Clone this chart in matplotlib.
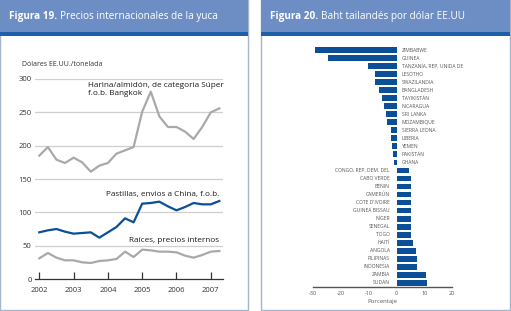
import matplotlib
matplotlib.use("Agg")
import matplotlib.pyplot as plt
from matplotlib.patches import Rectangle

plt.rcParams["font.family"] = ["Open Sans", "DejaVu Sans"]

# --- Figura 19 data (quarterly, 2002 Q1 .. 2007 Q2) ---
quarters = [2002 + i * 0.25 for i in range(22)]
harina = [185, 198, 179, 174, 182, 175, 161, 170, 174, 188, 193, 198,
          251, 281, 244, 228, 228, 221, 210, 228, 250, 256]
pastillas = [70, 73, 75, 71, 68, 69, 70, 62, 70, 78, 91, 85,
             113, 114, 116, 109, 103, 108, 114, 112, 112, 117]
raices = [31, 39, 32, 28, 28, 25, 24, 27, 28, 30, 41, 33,
          44, 43, 41, 41, 40, 35, 32, 36, 41, 42]
years = [2002, 2003, 2004, 2005, 2006, 2007]
yticks_left = [0, 50, 100, 150, 200, 250, 300]

# --- Figura 20 data ---
countries = ["ZIMBABWE", "GUINEA", "TANZANÍA, REP. UNIDA DE", "LESOTHO",
             "SWAZILANDIA", "BANGLADESH", "TAYIKISTÁN", "NICARAGUA",
             "SRI LANKA", "MOZAMBIQUE", "SIERRA LEONA", "LIBERIA", "YEMEN",
             "PAKISTÁN", "GHANA", "CONGO, REP. DEM. DEL", "CABO VERDE",
             "BENIN", "CAMERÚN", "COTE D'IVOIRE", "GUINEA BISSAU", "NÍGER",
             "SENEGAL", "TOGO", "HAITÍ", "ANGOLA", "FILIPINAS", "INDONESIA",
             "ZAMBIA", "SUDÁN"]
change = [-29.5, -24.7, -10.2, -7.7, -7.7, -6.3, -5.3, -4.6, -4.0, -3.4,
          -2.2, -1.9, -1.7, -1.2, -1.1, 4.4, 5.0, 5.0, 5.0, 5.0, 5.0, 5.0,
          5.0, 5.1, 5.8, 6.8, 7.2, 7.2, 10.6, 11.0]
xticks_right = [-30, -20, -10, 0, 10, 20]

W, H = 511, 311
HEAD = "#6d8ec4"
STRIP = "#1f5ea8"
EDGE = "#a3b6cb"
BLUE = "#0b4f99"
GREY = "#a9a9a9"

fig = plt.figure(figsize=(W / 100, H / 100), dpi=100)


def box(x0, y0, x1, y1):
    """pixel box (top-left origin) -> figure fraction rect"""
    return [x0 / W, 1 - y1 / H, (x1 - x0) / W, (y1 - y0) / H]


def panel(x0, x1, bold, rest):
    fig.patches.append(Rectangle((x0 / W, 1 - 310 / H), (x1 - x0) / W, 310 / H,
                                 transform=fig.transFigure, facecolor="white",
                                 edgecolor=EDGE, lw=1, zorder=-3))
    fig.patches.append(Rectangle((x0 / W, 1 - 32 / H), (x1 - x0) / W, 32 / H,
                                 transform=fig.transFigure, facecolor=HEAD,
                                 edgecolor="none", zorder=-2))
    fig.patches.append(Rectangle((x0 / W, 1 - 36 / H), (x1 - x0) / W, 4 / H,
                                 transform=fig.transFigure, facecolor=STRIP,
                                 edgecolor="none", zorder=-2))
    t = fig.text((x0 + 9) / W, 1 - 16 / H, bold, color="white", fontsize=7.2,
                 fontweight="bold", va="center", ha="left")
    fig.canvas.draw()
    bb = t.get_window_extent()
    fig.text(bb.x1 / W + 2.5 / W, 1 - 16 / H, rest, color="white",
             fontsize=7.2, va="center", ha="left")


panel(0, 248, "Figura 19.", "Precios internacionales de la yuca")
panel(261, 510, "Figura 20.", "Baht tailandés por dólar EE.UU")

# ---------- left chart ----------
ax = fig.add_axes(box(35, 79, 223, 279))
ax.set_xlim(2001.875, 2007.356)
ax.set_ylim(0, 300)
ax.set_facecolor("none")
for y in yticks_left[1:]:
    ax.axhline(y, color="#cfcfcf", lw=0.9 if y < 300 else 1.6, zorder=1)
ax.plot(quarters, harina, color=GREY, lw=1.6, zorder=3)
ax.plot(quarters, raices, color=GREY, lw=1.6, zorder=3)
ax.plot(quarters, pastillas, color=BLUE, lw=1.6, zorder=3)
for s in ["top", "right", "left"]:
    ax.spines[s].set_visible(False)
ax.spines["bottom"].set_color("#333333")
ax.spines["bottom"].set_linewidth(0.9)
ax.set_xticks(years)
ax.set_xticklabels([str(y) for y in years])
ax.set_yticks(yticks_left)
ax.tick_params(axis="x", direction="in", length=5, width=0.9, color="#333333",
               labelsize=5.5, pad=6, labelcolor="#333333")
ax.tick_params(axis="y", length=0, labelsize=5.5, pad=2.5, labelcolor="#333333")
fig.text(22 / W, 1 - 65 / H, "Dólares EE.UU./tonelada", fontsize=5,
         color="#333333", va="center", ha="left")
ax.text(2003.42, 296, "Harina/almidón, de categoria Súper\nf.o.b. Bangkok",
        fontsize=5.9, color="#1a1a1a", va="top", ha="left", linespacing=1.2)
ax.text(2007.25, 127, "Pastillas, envios a China, f.o.b.", fontsize=5.9,
        color="#1a1a1a", va="center", ha="right")
ax.text(2007.25, 58, "Raíces, precios internos", fontsize=5.9,
        color="#1a1a1a", va="center", ha="right")

# ---------- right chart ----------
n = len(countries)
row0, step = 50, 8.03
top_px = row0 - step
bot_px = 287.3
ax2 = fig.add_axes(box(313.3, top_px, 452.3, bot_px))
pos = list(range(n))
ax2.barh(pos, change, height=0.72, color=BLUE, zorder=2)
ax2.set_xlim(-30, 20)
ax2.set_ylim((bot_px - row0) / step, -1)
ax2.set_facecolor("none")
for s in ["top", "right", "left"]:
    ax2.spines[s].set_visible(False)
ax2.spines["bottom"].set_color("#555555")
ax2.spines["bottom"].set_linewidth(1.0)
ax2.set_yticks([])
ax2.set_xticks(xticks_right)
ax2.set_xticklabels([str(v) for v in xticks_right])
ax2.tick_params(axis="x", length=0, labelsize=4, pad=3, labelcolor="#555555")
ax2.set_xlabel("Porcentaje", fontsize=4.3, color="#555555", labelpad=2)
for i, (c, v) in enumerate(zip(countries, change)):
    if v < 0:
        ax2.text(1.9, i, c, fontsize=3.6, color="#555555", va="center", ha="left")
    else:
        ax2.text(-2.5, i, c, fontsize=3.6, color="#555555", va="center", ha="right")

fig.savefig("out.png", dpi=100)
